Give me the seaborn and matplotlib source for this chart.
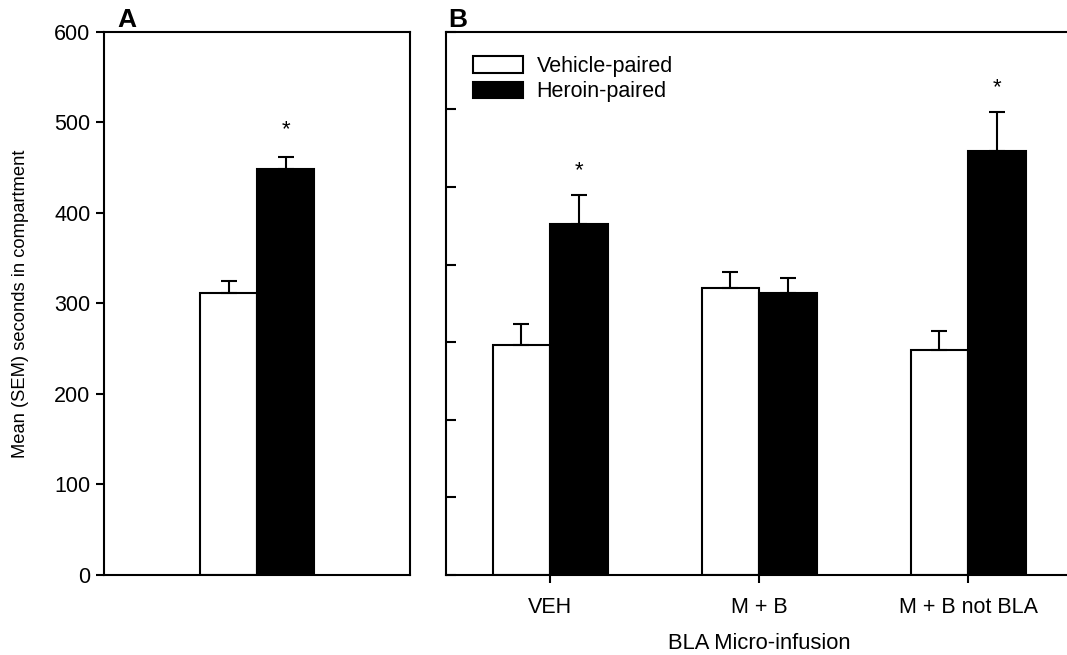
import pandas as pd
import matplotlib
matplotlib.use("Agg")
import matplotlib.pyplot as plt
import seaborn as sns
from matplotlib.patches import Patch

groups = ["Vehicle-paired", "Heroin-paired"]
colors = {"Vehicle-paired": "white", "Heroin-paired": "black"}

# panel A
a_means = [311, 448]
a_sems = [14, 14]

# panel B
b_conditions = ["VEH", "M + B", "M + B not BLA"]
b_vehicle = [297, 370, 290]
b_vehicle_sem = [26, 21, 25]
b_heroin = [452, 363, 546]
b_heroin_sem = [37, 20, 50]
b_sig = [True, False, True]

df_a = pd.DataFrame({"cond": ["all", "all"], "group": groups, "mean": a_means, "sem": a_sems})
df_b = pd.DataFrame({
    "cond": b_conditions * 2,
    "group": [groups[0]] * 3 + [groups[1]] * 3,
    "mean": b_vehicle + b_heroin,
    "sem": b_vehicle_sem + b_heroin_sem,
})

sns.set_theme(style="ticks")
plt.rcParams["font.family"] = ["Liberation Sans", "DejaVu Sans"]
plt.rcParams["axes.linewidth"] = 1.5
plt.rcParams["axes.edgecolor"] = "black"
plt.rcParams["text.color"] = "black"
plt.rcParams["xtick.color"] = "black"
plt.rcParams["ytick.color"] = "black"
plt.rcParams["axes.labelcolor"] = "black"

fig = plt.figure(figsize=(10.67, 6.55), dpi=100)
ax_a = fig.add_axes([0.0975, 0.1221, 0.2868, 0.8295])
ax_b = fig.add_axes([0.4176, 0.1221, 0.5876, 0.8295])


def draw(ax, df, width):
    sns.barplot(data=df, x="cond", y="mean", hue="group", hue_order=groups,
                palette=colors, saturation=1, width=width, errorbar=None,
                edgecolor="black", linewidth=1.5, legend=False, ax=ax)
    for container, g in zip(ax.containers, groups):
        sub = df[df["group"] == g]
        xs = [p.get_x() + p.get_width() / 2 for p in container.patches]
        ax.errorbar(xs, sub["mean"].values, yerr=[[0] * len(xs), sub["sem"].values],
                    fmt="none", ecolor="black", elinewidth=1.5, capsize=6, capthick=1.5)
    return ax.containers


# panel A
cont = draw(ax_a, df_a, 0.373)
ax_a.set_xlim(-0.5, 0.5)
ax_a.set_ylim(0, 600)
ax_a.set_yticks(range(0, 601, 100))
ax_a.set_xticks([])
ax_a.set_xlabel("")
ax_a.set_ylabel("Mean (SEM) seconds in compartment", fontsize=13.2)
ax_a.yaxis.set_label_coords(-0.245, 0.5)
ax_a.tick_params(axis="y", labelsize=15.5, length=5.8, width=1.5, direction="out", pad=4)
p = cont[1].patches[0]
ax_a.text(p.get_x() + p.get_width() / 2, a_means[1] + a_sems[1] + 18, "*",
          ha="center", va="bottom", fontsize=16)
ax_a.text(0.045, 1.0, "A", transform=ax_a.transAxes, fontsize=19,
          fontweight="bold", va="bottom", ha="left")

# panel B
cont = draw(ax_b, df_b, 0.55)
ax_b.set_xlim(-0.5, 2.5)
ax_b.set_ylim(0, 700)
ax_b.set_yticks(range(0, 701, 100))
ax_b.set_yticklabels([])
ax_b.set_ylabel("")
ax_b.set_xlabel("BLA Micro-infusion", fontsize=15.8, labelpad=11)
ax_b.tick_params(axis="y", length=7, width=1.5, direction="in")
ax_b.tick_params(axis="x", labelsize=15.5, length=5.8, width=1.5, direction="out", pad=10)
ax_b.spines["right"].set_visible(False)
for i, sig in enumerate(b_sig):
    if sig:
        p = cont[1].patches[i]
        ax_b.text(p.get_x() + p.get_width() / 2, b_heroin[i] + b_heroin_sem[i] + 18, "*",
                  ha="center", va="bottom", fontsize=16)
ax_b.text(0.004, 1.0, "B", transform=ax_b.transAxes, fontsize=19,
          fontweight="bold", va="bottom", ha="left")

handles = [Patch(facecolor=colors[g], edgecolor="black", linewidth=1.5, label=g) for g in groups]
ax_b.legend(handles=handles, loc="upper left", bbox_to_anchor=(0.044, 0.955),
            frameon=False, fontsize=15.5, handlelength=2.3, handleheight=0.8,
            labelspacing=0.2, handletextpad=0.65, borderaxespad=0, borderpad=0)

fig.savefig("out.png", dpi=100)
